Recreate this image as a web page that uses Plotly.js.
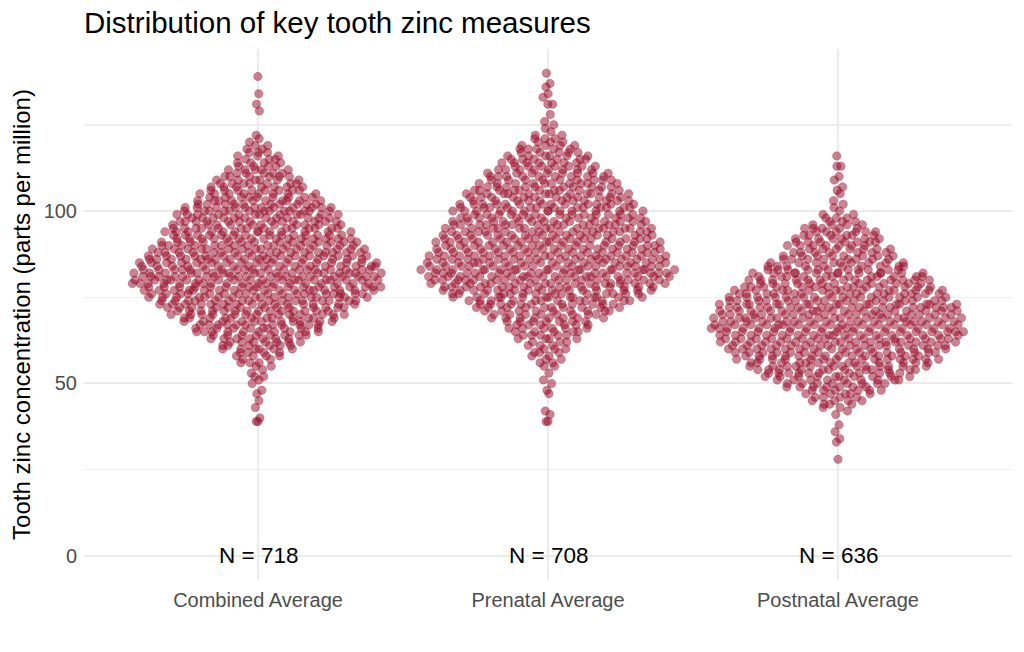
<!DOCTYPE html>
<html>
<head>
<meta charset="utf-8">
<script src="https://cdn.plot.ly/plotly-3.0.1.min.js"></script>
<style>html,body{margin:0;padding:0;background:#fff;}#chart{width:1024px;height:652px;}</style>
</head>
<body>
<div id="chart"></div>
<script>
// ---- data (zinc concentration rounded to whole ppm, with the number of teeth at each level) ----
const categories = ['Combined Average', 'Prenatal Average', 'Postnatal Average'];
const sampleSizes = [718, 708, 636];

const combinedLevels = [39,40,43,45,47,48,50,51,52,53,54,55,56,57,58,59,60,61,62,63,64,65,66,67,68,69,70,71,72,73,74,75,76,77,78,79,80,81,82,83,84,85,86,87,88,89,90,91,92,93,94,95,96,97,98,99,100,101,102,103,104,105,106,107,108,109,110,111,112,113,114,115,116,117,118,119,120,121,122,129,131,134,139];
const combinedCounts = [2,1,1,1,1,1,1,1,2,1,1,2,3,2,4,4,6,6,7,7,8,10,9,11,11,12,13,14,13,15,16,16,17,18,18,19,19,20,18,19,17,17,18,16,17,15,16,14,15,14,13,14,11,13,12,12,13,12,10,10,9,8,8,7,7,6,6,5,5,4,4,3,3,3,2,2,1,1,1,1,1,1,1];

const prenatalLevels = [39,41,42,47,48,50,51,53,55,56,57,58,59,60,61,62,63,64,65,66,67,68,69,70,71,72,73,74,75,76,77,78,79,80,81,82,83,84,85,86,87,88,89,90,91,92,93,94,95,96,97,98,99,100,101,102,103,104,105,106,107,108,109,110,111,112,113,114,115,116,117,118,119,120,121,122,123,124,125,126,128,131,133,134,136,137,140];
const prenatalCounts = [2,1,1,1,1,1,1,1,2,2,2,2,3,3,3,3,4,5,5,6,6,7,8,8,9,10,11,12,13,14,15,16,17,17,18,18,18,17,17,17,16,16,16,16,15,15,15,15,14,14,14,13,13,13,13,13,11,12,12,11,10,10,9,9,8,8,7,7,6,6,5,5,4,3,3,2,1,1,1,1,1,2,1,1,1,1,1];

const postnatalLevels = [28,33,34,36,38,41,42,43,44,45,46,47,48,49,50,51,52,53,54,55,56,57,58,59,60,61,62,63,64,65,66,67,68,69,70,71,72,73,74,75,76,77,78,79,80,81,82,83,84,85,86,87,88,89,90,91,92,93,94,95,96,97,98,99,100,101,102,103,105,106,107,109,110,113,116];
const postnatalCounts = [1,1,1,1,1,1,1,2,3,4,4,5,6,7,8,9,10,11,12,13,13,14,14,15,15,16,17,16,17,17,18,17,17,17,17,17,17,16,16,15,15,14,14,13,13,12,12,11,10,9,8,8,7,7,7,7,6,6,6,5,4,3,3,2,1,1,1,1,1,1,1,1,1,2,1];

// ---- expand level/count tables into one value per tooth ----
function expand(levels, counts) {
  const out = [];
  levels.forEach((lv, i) => { for (let k = 0; k < counts[i]; k++) out.push(lv); });
  return out;
}

// quasirandom (van der Corput) horizontal offsets scaled by a kernel density estimate,
// as in ggbeeswarm::geom_quasirandom
function vdc(i) { let r = 0, f = 0.5; while (i > 0) { r += f * (i % 2); i = Math.floor(i / 2); f /= 2; } return r; }
function quasiOffsets(vals, halfWidth, bw) {
  const n = vals.length;
  const dens = v => { let s = 0; for (const x of vals) { const z = (v - x) / bw; s += Math.exp(-0.5 * z * z); } return s; };
  let maxD = 0; const dv = vals.map(v => { const d = dens(v); if (d > maxD) maxD = d; return d; });
  const order = vals.map((v, i) => i).sort((a, b) => vals[a] - vals[b] || a - b);
  const off = new Array(n);
  order.forEach((idx, rank) => { off[idx] = (vdc(rank + 1) - 0.5) * 2 * halfWidth * dv[idx] / maxD; });
  return off;
}

const groups = [
  expand(combinedLevels, combinedCounts),
  expand(prenatalLevels, prenatalCounts),
  expand(postnatalLevels, postnatalCounts)
];

const FONT = 'Liberation Sans, Arial, Helvetica, sans-serif';
const traces = groups.map((vals, g) => {
  const off = quasiOffsets(vals, 0.44, 2.5);
  return {
    type: 'scatter', mode: 'markers',
    x: vals.map((v, i) => g + off[i]), y: vals,
    marker: { size: 8.5, color: 'rgba(150,8,38,0.5)', line: { color: 'rgba(150,8,38,0.35)', width: 0.7 } },
    hoverinfo: 'skip', showlegend: false
  };
});

const annotations = sampleSizes.map((n, g) => ({
  x: g, y: 0, xref: 'x', yref: 'y', text: 'N = ' + n, showarrow: false,
  xanchor: 'center', yanchor: 'middle', font: { family: FONT, size: 22.5, color: '#000' }
}));

const layout = {
  width: 1024, height: 652,
  margin: { l: 84, r: 12, t: 49, b: 72 },
  paper_bgcolor: '#fff', plot_bgcolor: '#fff',
  font: { family: FONT },
  title: { text: 'Distribution of key tooth zinc measures', font: { family: FONT, size: 29.5, color: '#000' },
           xref: 'paper', x: 0, xanchor: 'left', yref: 'container', y: 1 - 23 / 652, yanchor: 'middle' },
  xaxis: { range: [-0.6, 2.6], tickmode: 'array', tickvals: [0, 1, 2], ticktext: categories,
           showgrid: true, gridcolor: '#EBEBEB', gridwidth: 2, zeroline: false, showline: false, ticks: '',
           ticklabelstandoff: 6, tickfont: { family: FONT, size: 20, color: '#4D4D4D' }, fixedrange: true },
  yaxis: { range: [-7, 147], tickmode: 'linear', tick0: 0, dtick: 50,
           showgrid: true, gridcolor: '#EBEBEB', gridwidth: 2, zeroline: false, showline: false, ticks: '',
           minor: { tickmode: 'linear', tick0: 0, dtick: 25, showgrid: true, gridcolor: '#EEEEEE', gridwidth: 1.3, ticks: '' },
           ticklabelstandoff: 6, tickfont: { family: FONT, size: 20, color: '#4D4D4D' },
           title: { text: 'Tooth zinc concentration (parts per million)', font: { family: FONT, size: 24, color: '#000' }, standoff: 6 },
           fixedrange: true },
  annotations: annotations,
  hovermode: false, showlegend: false
};

Plotly.newPlot('chart', traces, layout, { displayModeBar: false, staticPlot: true });
</script>
</body>
</html>
